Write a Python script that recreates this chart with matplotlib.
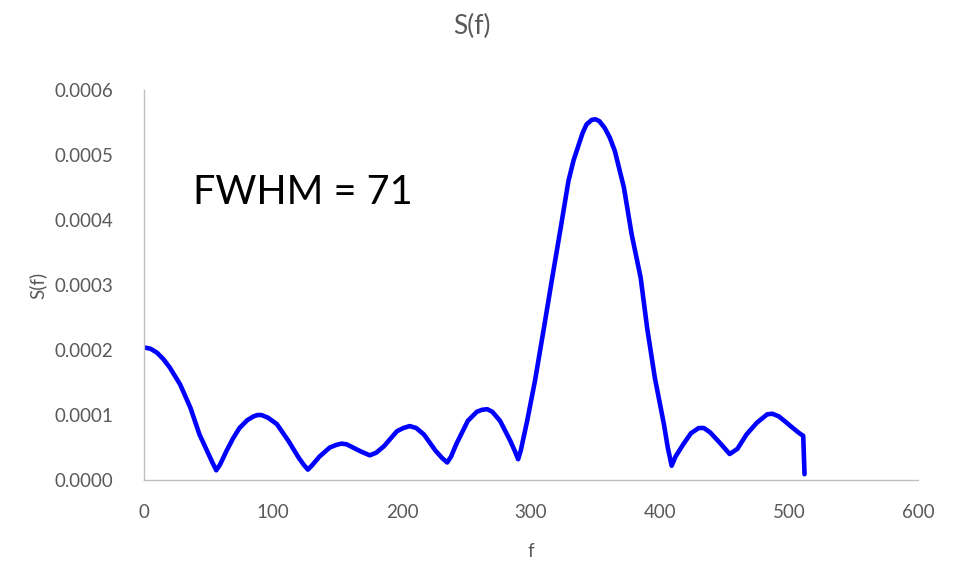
import matplotlib.pyplot as plt

# values (S(f) in units of 1e-4)
f = [0, 5, 10, 15, 20, 28, 36, 43, 50, 53, 56, 59, 64, 69, 74, 80, 85, 88,
     91, 96, 103, 112, 120, 124, 127, 130, 136, 144, 149, 153, 157, 162, 168,
     175, 180, 186, 196, 201, 206, 211, 217, 226, 231, 235, 238, 242, 251,
     258, 262, 266, 270, 276, 284, 288, 290, 292, 297, 303, 310, 316, 323,
     329, 333, 337, 340, 343, 347, 350, 353, 357, 361, 365, 372, 378, 385,
     390, 396, 403, 406, 409, 412, 418, 424, 430, 434, 439, 446, 454, 460,
     467, 475, 483, 487, 492, 497, 503, 508, 511, 512]
s = [2.04, 2.02, 1.96, 1.86, 1.73, 1.47, 1.11, 0.70, 0.40, 0.27, 0.15, 0.24,
     0.45, 0.64, 0.80, 0.92, 0.98, 1.00, 1.00, 0.96, 0.86, 0.60, 0.34, 0.23,
     0.16, 0.22, 0.36, 0.50, 0.54, 0.56, 0.55, 0.50, 0.44, 0.38, 0.42, 0.52,
     0.75, 0.80, 0.83, 0.80, 0.70, 0.45, 0.34, 0.27, 0.36, 0.55, 0.91, 1.05,
     1.08, 1.09, 1.05, 0.91, 0.60, 0.42, 0.32, 0.45, 0.91, 1.52, 2.34, 3.06,
     3.88, 4.60, 4.92, 5.16, 5.34, 5.47, 5.54, 5.55, 5.52, 5.42, 5.27, 5.06,
     4.50, 3.78, 3.11, 2.34, 1.57, 0.86, 0.50, 0.22, 0.36, 0.55, 0.72, 0.80,
     0.80, 0.73, 0.58, 0.40, 0.48, 0.70, 0.88, 1.01, 1.02, 0.98, 0.90, 0.80,
     0.72, 0.68, 0.09]
s = [v * 1e-4 for v in s]

xticks = [0, 100, 200, 300, 400, 500, 600]
yticks = [0, 0.0001, 0.0002, 0.0003, 0.0004, 0.0005, 0.0006]

plt.rcParams['font.family'] = ['Lato', 'DejaVu Sans']
gray = '#595959'

fig = plt.figure(figsize=(9.55, 5.65), dpi=100)
ax = fig.add_axes([0.1508, 0.1504, 0.8105, 0.6903])

ax.plot(f, s, color='#0000FF', linewidth=3.3, solid_capstyle='round',
        solid_joinstyle='round')

ax.set_xlim(0, 600)
ax.set_ylim(0, 0.0006)
ax.set_xticks(xticks)
ax.set_yticks(yticks)
ax.set_yticklabels(['%.4f' % v for v in yticks])
ax.tick_params(axis='both', length=0, labelsize=13.5, labelcolor=gray)
ax.tick_params(axis='y', pad=22)
ax.tick_params(axis='x', pad=17)

for side in ['top', 'right']:
    ax.spines[side].set_visible(False)
for side in ['left', 'bottom']:
    ax.spines[side].set_color('#BFBFBF')
    ax.spines[side].set_linewidth(1.0)

fig.text(0.494, 0.953, 'S(f)', fontsize=19, color=gray, ha='center',
         va='center')
ax.set_xlabel('f', fontsize=13.5, color=gray, labelpad=16)
ax.set_ylabel('S(f)', fontsize=13.5, color=gray, labelpad=6)

ax.text(0.063, 0.736, 'FWHM = 71', transform=ax.transAxes, fontsize=28.5,
        color='black', ha='left', va='center')

fig.savefig('out.png', dpi=100)
